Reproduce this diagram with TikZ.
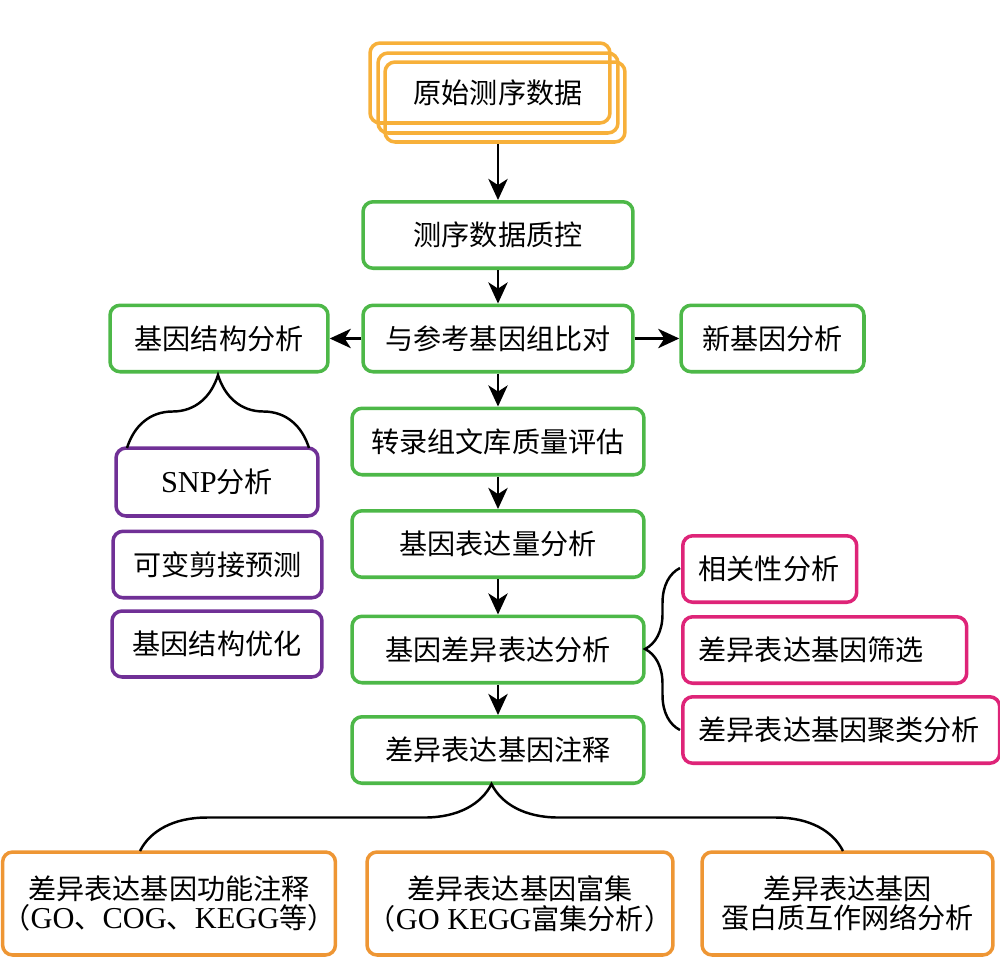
\documentclass[tikz,border=0pt]{standalone}
\usepackage{fontspec}
\newfontfamily\cjk{Noto Sans CJK SC}
\newfontfamily\latin{Liberation Serif}[Scale=1.08]
\usetikzlibrary{arrows.meta,calc,positioning,decorations.pathreplacing}

\definecolor{stepgreen}{RGB}{77,184,72}
\definecolor{rawyellow}{RGB}{247,176,58}
\definecolor{resorange}{RGB}{238,150,52}
\definecolor{structpurple}{RGB}{112,48,150}
\definecolor{degpink}{RGB}{222,36,120}

\begin{document}
\begin{tikzpicture}[x=0.02cm,y=-0.02cm,font=\cjk\fontsize{16}{17}\selectfont]

\useasboundingbox (0,0) rectangle (1000,960);

% =========================
% Box Styles
% =========================
\tikzset{
    flowbox/.style={
        draw,
        rounded corners=0.2cm,
        line width=2pt,
        align=center,
        inner sep=0pt,
        minimum height=1.33cm
    },
    rawbox/.style={flowbox, draw=rawyellow, minimum width=4.8cm, minimum height=1.6cm},
    mainbox/.style={flowbox, draw=stepgreen},
    sidebox/.style={flowbox, draw=structpurple},
    degbox/.style={flowbox, draw=degpink, align=left, inner xsep=0.32cm, anchor=west},
    resbox/.style={flowbox, draw=resorange, minimum height=2.06cm},
    flowarrow/.style={-{Stealth[length=12pt,width=11pt,inset=3.5pt]}, line width=1.5pt},
    bracelink/.style={decorate, decoration={brace, amplitude=#1}, line width=1.4pt}
}

% =========================
% Raw data (stacked)
% =========================
\node[rawbox] (raw) at (498,93) {原始测序数据};
\node[rawbox] (rawback) at ([shift={(-8,-10)}]raw.center) {};
\node[rawbox] (rawfront) at ([shift={(7,9)}]raw.center) {};

% =========================
% Main column
% =========================
\node[mainbox, minimum width=5.4cm] (qc) at (498,235) {测序数据质控};
\node[mainbox, minimum width=5.4cm] (align) at (498,338.5) {与参考基因组比对};
\node[mainbox, minimum width=5.84cm] (libqc) at (498,441.5) {转录组文库质量评估};
\node[mainbox, minimum width=5.84cm] (expr) at (498,544) {基因表达量分析};
\node[mainbox, minimum width=5.84cm] (deg) at (498,649.5) {基因差异表达分析};
\node[mainbox, minimum width=5.84cm] (anno) at (498,750) {差异表达基因注释};

% side boxes of the alignment step
\node[mainbox, minimum width=4.36cm] (struct) at (219,338.5) {基因结构分析};
\node[mainbox, minimum width=3.66cm] (newgene) at (772.5,338.5) {新基因分析};

% =========================
% Gene structure results
% =========================
\node[sidebox, minimum width=4.04cm, minimum height=1.36cm] (snp) at (217,482) {{\latin SNP}分析};
\node[sidebox, minimum width=4.18cm] (splice) at (217.5,564.5) {可变剪接预测};
\node[sidebox, minimum width=4.2cm, minimum height=1.32cm] (optim) at (217,644) {基因结构优化};

% =========================
% DEG results
% =========================
\node[degbox, text width=2.84cm] (corr) at (681,569) {相关性分析};
\node[degbox, text width=5.04cm] (filt) at (681,650) {差异表达基因筛选};
\node[degbox, text width=5.7cm] (clus) at (681,730) {差异表达基因聚类分析};

% =========================
% Annotation results
% =========================
\node[resbox, minimum width=6.64cm] (func) at (169,903.5) {差异表达基因功能注释\\（{\latin GO}、{\latin COG}、{\latin KEGG}等）};
\node[resbox, minimum width=6.12cm] (enrich) at (520,903.5) {差异表达基因富集\\（{\latin GO KEGG}富集分析）};
\node[resbox, minimum width=5.82cm] (ppi) at (847.5,903.5) {差异表达基因\\蛋白质互作网络分析};

% =========================
% Arrows
% =========================
\draw[flowarrow] (raw.south |- rawfront.south) -- (qc.north);
\draw[flowarrow] (qc) -- (align);
\draw[flowarrow] (align) -- (struct);
\draw[flowarrow] (align) -- (newgene);
\draw[flowarrow] (align) -- (libqc);
\draw[flowarrow] (libqc) -- (expr);
\draw[flowarrow] (expr) -- (deg);
\draw[flowarrow] (deg) -- (anno);

% =========================
% Braces
% =========================
\coordinate (snpL) at (127,448);
\coordinate (snpR) at (309,448);
\draw[bracelink=1.46cm] (snpL) -- (snpR);

\coordinate (degB) at (680,730);
\coordinate (degT) at (680,568);
\draw[bracelink=0.7cm] (degB) -- (degT);

\coordinate (resL) at (140,851);
\coordinate (resR) at (843,851);
\draw[bracelink=1.34cm] (resL) -- (resR);

\end{tikzpicture}
\end{document}
